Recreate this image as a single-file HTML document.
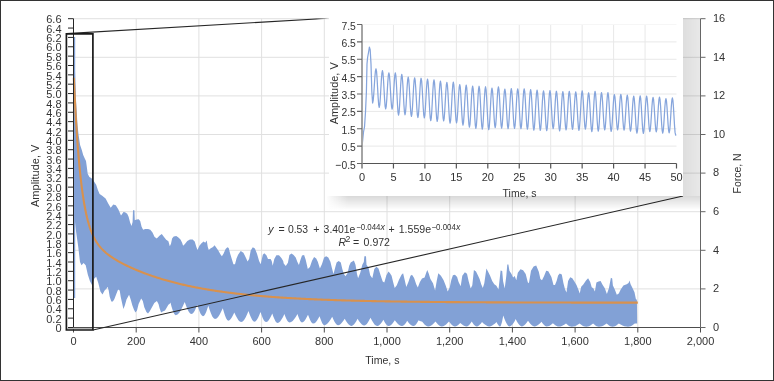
<!DOCTYPE html>
<html><head><meta charset="utf-8"><title>Amplitude vs Time</title>
<style>
html,body{margin:0;padding:0;background:#fff;}
body{width:774px;height:381px;overflow:hidden;font-family:"Liberation Sans",sans-serif;}
svg{display:block;will-change:transform;}
</style></head><body>
<svg width="774" height="381" viewBox="0 0 774 381"><path d="M73.5,288.90H700.5M73.5,250.30H700.5M73.5,211.70H700.5M73.5,173.10H700.5M73.5,134.50H700.5M73.5,95.90H700.5M73.5,57.30H700.5M73.5,18.70H700.5M136.20,18.7V327.5M198.90,18.7V327.5M261.60,18.7V327.5M324.30,18.7V327.5M387.00,18.7V327.5M449.70,18.7V327.5M512.40,18.7V327.5M575.10,18.7V327.5M637.80,18.7V327.5" stroke="#e0e0e0" stroke-width="1" fill="none"/>
<path d="M75.0,70.0 75.5,85.0 76.0,100.0 76.6,110.0 77.5,125.0 78.6,135.0 80.1,145.0 81.8,150.0 83.2,155.0 85.0,159.0 86.0,161.0 86.8,166.8 87.7,173.7 89.4,177.1 91.1,177.9 92.8,179.6 94.5,182.2 96.2,184.7 97.9,189.9 99.6,194.1 102.2,195.8 105.6,198.4 108.2,203.5 110.7,207.8 113.3,204.4 115.8,205.2 118.4,209.5 121.0,215.5 123.5,212.0 125.0,212.3 127.2,213.8 128.6,216.7 130.1,222.5 131.5,226.1 132.6,222.0 133.0,210.2 134.4,210.2 134.8,220.3 136.6,219.6 138.7,219.3 140.2,221.0 141.6,226.8 143.1,229.7 145.2,229.0 148.1,229.0 150.3,229.7 152.5,232.6 154.6,236.9 156.8,238.4 159.7,235.5 161.8,234.0 164.0,236.9 166.2,239.8 168.4,241.2 169.8,246.3 171.0,243.7 172.1,238.5 173.7,236.4 176.3,235.9 178.4,237.4 180.5,239.5 182.1,242.7 183.1,245.8 184.7,244.3 187.3,241.1 189.9,239.5 192.6,239.5 194.7,241.6 196.2,246.4 197.5,250.0 199.4,245.8 201.5,243.2 203.6,241.6 205.2,242.7 206.7,240.6 207.8,246.9 208.8,250.0 210.4,248.5 213.0,246.9 214.6,245.3 216.2,247.4 218.3,250.6 220.4,254.2 221.9,256.3 223.5,253.7 225.6,249.0 227.4,247.2 228.7,248.0 230.2,253.7 231.8,259.0 233.4,264.2 235.0,264.2 236.5,258.5 238.1,254.8 240.7,251.1 243.4,252.7 246.0,257.9 247.6,261.6 249.1,259.0 250.7,250.6 252.8,247.2 254.9,248.5 257.0,253.7 259.1,261.1 260.7,264.2 262.8,254.8 264.3,253.2 266.4,255.3 268.0,259.0 270.6,259.0 271.7,261.1 272.7,265.8 274.3,259.0 276.4,255.3 279.0,255.3 281.4,257.9 283.2,261.0 283.7,263.4 285.8,266.0 287.9,262.8 289.4,255.0 291.5,253.4 293.6,255.0 295.7,257.6 297.3,261.8 298.9,265.0 300.5,259.7 302.0,255.5 304.1,255.0 305.7,259.7 307.8,269.1 309.9,267.0 312.0,260.7 314.1,257.1 316.2,258.6 317.8,261.8 319.9,268.6 322.0,263.9 324.1,257.6 326.2,256.3 328.3,257.6 330.4,261.8 331.9,268.1 333.5,273.9 335.6,266.0 336.6,262.6 338.7,261.0 340.8,262.6 342.3,268.9 343.9,274.1 345.5,276.2 347.6,273.1 349.2,265.7 350.7,262.6 352.3,261.5 353.9,260.5 355.5,264.7 357.0,274.1 358.1,278.3 360.2,273.1 362.3,264.7 363.8,262.0 364.4,256.3 366.0,256.3 366.5,264.7 368.6,267.8 370.2,275.2 372.3,278.3 374.3,268.9 376.4,266.8 378.5,268.4 380.6,275.2 382.7,281.5 384.3,282.5 386.4,275.2 388.5,271.5 390.0,273.2 391.6,275.8 393.1,282.1 394.7,287.9 396.8,285.3 398.9,280.0 401.5,274.8 403.1,273.2 404.7,280.0 406.3,286.9 408.4,282.1 410.5,275.8 412.0,274.8 414.1,277.9 416.2,284.2 417.8,287.4 419.9,282.1 422.0,278.5 424.6,277.4 426.2,272.7 427.3,270.1 428.8,273.7 430.4,279.0 433.0,283.2 435.1,290.5 436.7,281.1 438.3,273.2 440.9,275.8 443.5,280.0 445.6,285.3 447.7,291.6 449.7,287.4 451.3,280.0 452.9,275.3 455.0,274.8 457.1,276.9 458.6,282.1 460.7,286.3 462.3,275.8 464.9,272.2 467.0,273.7 468.6,281.1 470.7,288.4 472.3,285.3 473.9,270.1 476.0,271.6 478.1,275.8 479.6,279.0 481.2,284.2 482.8,287.9 484.3,283.2 486.4,268.5 488.0,271.6 490.1,275.8 492.2,281.1 494.3,284.2 496.4,285.8 498.5,289.5 500.6,270.6 502.2,271.1 503.1,281.2 504.7,288.6 506.3,276.0 507.3,264.4 508.4,264.4 509.4,270.7 511.5,273.9 513.1,277.6 514.7,276.0 516.3,280.2 517.8,272.8 520.5,269.2 523.1,270.2 525.7,273.9 527.8,282.3 528.9,283.3 531.0,270.7 533.6,266.5 536.2,265.5 538.8,271.8 540.4,279.1 542.0,280.2 544.1,276.0 546.2,270.7 548.3,271.3 551.4,277.0 553.5,284.9 555.0,285.1 556.6,280.9 558.1,275.6 559.7,273.5 561.8,274.6 563.4,283.0 565.0,289.3 566.5,292.4 568.1,280.9 570.2,277.2 572.3,278.3 574.4,281.4 576.5,285.1 578.6,290.3 579.7,293.5 581.2,286.7 583.3,284.6 586.0,280.4 588.1,278.3 590.2,281.9 591.7,287.2 593.3,288.2 594.9,291.4 596.4,282.5 598.5,281.4 600.6,280.9 602.7,285.1 604.8,288.2 606.9,294.0 608.9,288.2 610.9,277.7 612.2,278.4 612.9,285.6 614.8,289.6 616.8,294.8 618.8,293.5 620.7,289.6 623.4,285.6 626.7,284.3 628.6,283.0 629.5,280.4 630.6,284.3 632.6,288.2 634.5,292.2 635.8,298.7 636.9,300.0 637.2,323.5 637.2,323.5 636.7,323.5 636.2,323.5 635.8,323.5 635.3,323.4 634.8,323.4 633.4,324.5 632.1,325.4 630.7,326.2 629.4,326.6 628.0,326.8 626.2,326.6 624.3,326.2 622.5,325.4 620.6,324.5 618.8,323.5 617.5,324.5 616.3,325.4 615.0,326.2 613.8,326.6 612.5,326.8 611.3,326.6 610.2,326.2 609.0,325.4 607.9,324.5 606.7,323.5 605.1,324.5 603.6,325.4 602.0,326.2 600.5,326.6 598.9,326.8 597.7,326.6 596.6,326.2 595.4,325.4 594.3,324.5 593.1,323.5 591.7,324.5 590.4,325.4 589.0,326.2 587.7,326.6 586.3,326.8 584.9,326.6 583.6,326.2 582.2,325.4 580.9,324.5 579.5,323.5 578.0,324.5 576.4,325.4 574.9,326.2 573.3,326.6 571.8,326.8 570.6,326.6 569.5,326.2 568.3,325.4 567.2,324.5 566.0,323.5 564.6,324.5 563.2,325.3 561.8,326.0 560.4,326.4 559.0,326.6 557.8,326.4 556.6,326.0 555.3,325.2 554.1,324.3 552.9,323.3 551.7,324.3 550.4,325.2 549.2,325.9 547.9,326.3 546.7,326.5 545.7,326.3 544.6,325.6 543.6,324.5 542.5,323.2 541.5,321.7 540.1,323.2 538.6,324.5 537.2,325.5 535.7,326.2 534.3,326.4 533.0,326.1 531.8,325.3 530.5,324.1 529.3,322.5 528.0,320.7 526.8,322.5 525.6,324.1 524.3,325.3 523.1,326.1 521.9,326.4 520.7,326.0 519.4,325.0 518.2,323.4 516.9,321.4 515.7,319.1 514.5,321.4 513.2,323.4 512.0,325.0 510.7,326.0 509.5,326.4 508.3,325.9 507.0,324.3 505.8,321.9 504.5,318.9 503.3,315.5 502.6,318.9 502.0,321.9 501.3,324.3 500.7,325.9 500.0,326.4 499.3,326.2 498.6,325.6 497.9,324.6 497.2,323.4 496.5,322.0 495.1,323.4 493.6,324.6 492.2,325.6 490.7,326.2 489.3,326.4 487.8,326.2 486.4,325.6 484.9,324.6 483.5,323.4 482.0,322.0 481.0,323.4 479.9,324.6 478.9,325.6 477.8,326.2 476.8,326.4 475.8,326.2 474.8,325.5 473.7,324.4 472.7,323.0 471.7,321.5 470.7,323.0 469.6,324.4 468.6,325.5 467.5,326.2 466.5,326.4 465.3,326.2 464.0,325.8 462.8,325.0 461.5,324.1 460.3,323.0 459.2,324.1 458.2,325.0 457.1,325.8 456.1,326.2 455.0,326.4 453.8,326.2 452.6,325.5 451.4,324.4 450.2,323.0 449.0,321.5 447.5,323.0 446.1,324.4 444.6,325.5 443.2,326.2 441.7,326.4 440.5,326.2 439.2,325.5 438.0,324.4 436.7,323.0 435.5,321.5 434.1,323.0 432.6,324.4 431.2,325.5 429.7,326.2 428.3,326.4 427.0,326.2 425.8,325.5 424.5,324.4 423.3,323.0 422.0,321.5 421.3,321.4 420.6,321.3 420.0,321.0 419.3,320.7 418.6,320.3 417.6,322.1 416.5,323.7 415.5,324.9 414.4,325.7 413.4,326.0 412.2,325.7 410.9,325.0 409.7,323.9 408.4,322.4 407.2,320.8 406.2,322.4 405.1,323.9 404.1,325.0 403.0,325.7 402.0,326.0 400.6,325.7 399.1,324.9 397.7,323.7 396.2,322.1 394.8,320.3 393.6,322.1 392.3,323.7 391.1,324.9 389.8,325.7 388.6,326.0 387.6,325.7 386.5,324.8 385.5,323.4 384.4,321.7 383.4,319.8 382.2,321.7 380.9,323.4 379.7,324.8 378.4,325.7 377.2,326.0 375.9,325.6 374.5,324.4 373.2,322.6 371.8,320.3 370.5,317.7 369.3,320.1 368.0,322.3 366.8,324.0 365.5,325.1 364.3,325.5 363.0,325.2 361.6,324.2 360.3,322.7 358.9,320.9 357.6,318.8 356.4,321.0 355.1,323.0 353.9,324.6 352.6,325.6 351.4,326.0 350.1,325.6 348.7,324.6 347.4,323.0 346.0,321.0 344.7,318.8 343.4,320.8 342.0,322.6 340.7,324.0 339.3,324.9 338.0,325.2 336.8,324.8 335.7,323.6 334.5,321.7 333.4,319.4 332.2,316.8 330.6,319.4 329.0,321.7 327.5,323.6 325.9,324.8 324.3,325.2 323.4,324.8 322.4,323.5 321.5,321.5 320.5,319.0 319.6,316.2 318.3,318.5 317.1,320.5 315.8,322.2 314.6,323.2 313.3,323.6 312.2,323.2 311.2,321.9 310.1,319.9 309.1,317.5 308.0,314.7 306.8,317.1 305.6,319.3 304.4,321.0 303.2,322.1 302.0,322.5 301.1,322.1 300.2,320.9 299.3,319.0 298.4,316.7 297.5,314.1 295.9,316.7 294.3,319.0 292.7,320.9 291.1,322.1 289.5,322.5 288.5,322.1 287.5,320.9 286.4,319.0 285.4,316.7 284.4,314.1 283.0,316.9 281.6,319.3 280.3,321.3 278.9,322.6 277.5,323.0 276.5,322.5 275.4,321.2 274.4,319.1 273.3,316.4 272.3,313.5 271.0,316.2 269.8,318.6 268.5,320.5 267.3,321.7 266.0,322.1 264.9,321.6 263.8,320.2 262.7,317.9 261.6,315.1 260.5,312.0 259.3,315.0 258.1,317.7 256.9,319.8 255.7,321.2 254.5,321.7 253.3,321.2 252.1,319.7 250.9,317.3 249.7,314.4 248.5,311.1 247.0,314.5 245.6,317.6 244.1,320.0 242.7,321.6 241.2,322.1 239.8,321.6 238.4,320.3 237.1,318.1 235.7,315.5 234.3,312.5 233.1,315.0 231.9,317.3 230.7,319.1 229.5,320.3 228.3,320.7 227.2,320.1 226.1,318.3 225.0,315.6 223.9,312.1 222.8,308.3 221.2,311.6 219.7,314.5 218.1,316.9 216.6,318.4 215.0,318.9 213.7,318.3 212.3,316.4 211.0,313.5 209.6,309.8 208.3,305.7 207.2,308.9 206.2,311.9 205.1,314.2 204.1,315.7 203.0,316.2 201.9,315.6 200.7,314.0 199.6,311.5 198.4,308.3 197.3,304.7 196.1,307.6 195.0,310.2 193.8,312.3 192.7,313.6 191.5,314.1 190.1,313.5 188.8,311.8 187.4,309.2 186.1,305.8 184.7,302.1 182.9,306.1 181.1,309.8 179.3,312.7 177.5,314.6 175.7,315.2 174.7,314.6 173.6,312.8 172.6,310.0 171.5,306.5 170.5,302.6 170.1,303.2 169.7,303.7 169.3,304.1 168.9,304.4 168.5,304.5 166.5,308.0 165.0,310.4 162.7,311.5 161.1,312.5 159.6,308.3 158.5,304.1 156.9,301.0 154.3,303.1 151.7,307.8 149.6,311.5 148.0,313.6 146.4,312.0 144.3,307.3 142.8,301.0 141.2,298.4 138.6,304.1 137.0,310.4 135.4,312.5 133.9,309.4 132.3,305.2 130.7,299.4 129.1,294.7 126.5,299.4 124.9,305.2 123.4,308.9 122.3,304.1 120.7,296.8 119.7,290.5 118.1,289.4 116.5,293.6 114.4,298.9 112.9,301.5 111.3,301.5 109.7,296.8 108.7,290.5 107.6,286.8 106.6,288.4 104.6,290.5 102.5,294.6 100.4,291.4 98.3,283.0 96.2,276.7 94.1,278.8 92.0,285.1 89.9,280.9 87.8,274.6 85.7,265.2 83.6,263.0 81.5,265.2 80.0,262.0 78.3,247.3 76.2,232.6 74.8,220.0Z" fill="#82a1d6"/>
<rect x="74" y="37" width="1.2" height="261" fill="#82a1d6"/>
<path d="M73.81,77.78 73.97,81.23 74.13,84.62 74.28,87.94 74.44,91.18 74.60,94.36 74.75,97.47 74.91,100.52 75.07,103.50 75.22,106.42 75.38,109.29 75.54,112.09 75.69,114.83 75.85,117.52 76.01,120.15 76.16,122.72 76.32,125.25 76.48,127.72 76.64,130.14 76.79,132.51 76.95,134.83 77.11,137.10 77.26,139.33 77.42,141.51 77.58,143.65 77.73,145.74 77.89,147.79 78.05,149.80 78.20,151.76 78.36,153.69 78.52,155.58 78.67,157.43 78.83,159.24 78.99,161.01 79.14,162.75 79.30,164.46 79.46,166.13 79.61,167.76 79.77,169.37 79.93,170.94 80.08,172.48 80.24,173.98 80.40,175.46 80.55,176.91 80.71,178.33 80.87,179.72 81.02,181.09 81.18,182.42 81.34,183.73 81.49,185.02 81.65,186.28 81.81,187.51 81.96,188.72 82.12,189.91 82.28,191.07 82.43,192.21 82.59,193.33 82.75,194.43 82.91,195.50 83.06,196.55 83.22,197.59 84.16,203.39 85.10,208.55 86.04,213.17 86.98,217.30 87.92,220.99 88.86,224.32 89.80,227.31 90.74,230.02 91.68,232.46 92.62,234.69 93.56,236.71 94.50,238.56 95.44,240.26 96.39,241.82 97.33,243.26 98.27,244.60 99.21,245.84 100.15,247.00 101.09,248.09 102.03,249.11 102.97,250.08 103.91,250.99 104.85,251.85 105.79,252.68 106.73,253.47 107.67,254.22 108.61,254.95 109.55,255.65 110.49,256.32 111.43,256.97 112.37,257.60 113.31,258.22 114.25,258.81 115.20,259.40 116.14,259.96 117.08,260.52 118.02,261.06 118.96,261.59 119.90,262.11 120.84,262.62 121.78,263.12 122.72,263.62 123.66,264.10 124.60,264.58 125.54,265.05 126.48,265.51 127.42,265.96 128.36,266.41 129.30,266.85 130.24,267.28 131.18,267.71 132.12,268.14 133.06,268.55 134.01,268.96 134.95,269.37 135.89,269.77 136.83,270.17 137.77,270.56 138.71,270.94 139.65,271.32 140.59,271.70 141.53,272.07 142.47,272.44 143.41,272.80 144.35,273.16 145.29,273.51 146.23,273.86 147.17,274.20 148.11,274.54 149.05,274.88 149.99,275.21 150.93,275.54 151.88,275.87 152.82,276.19 153.76,276.50 154.70,276.82 155.64,277.12 156.58,277.43 157.52,277.73 158.46,278.03 159.40,278.32 160.34,278.61 161.28,278.90 162.22,279.19 163.16,279.47 164.10,279.74 165.04,280.02 165.98,280.29 166.92,280.56 167.86,280.82 168.80,281.08 169.74,281.34 170.69,281.59 171.63,281.85 172.57,282.09 173.51,282.34 174.45,282.58 175.39,282.82 176.33,283.06 177.27,283.29 178.21,283.53 179.15,283.75 180.09,283.98 181.03,284.20 181.97,284.42 182.91,284.64 183.85,284.86 184.79,285.07 185.73,285.28 186.67,285.49 187.61,285.69 188.55,285.90 189.50,286.10 190.44,286.30 191.38,286.49 192.32,286.69 193.26,286.88 194.20,287.06 195.14,287.25 196.08,287.44 197.02,287.62 197.96,287.80 198.90,287.98 199.84,288.15 200.78,288.32 201.72,288.50 202.66,288.67 203.60,288.83 204.54,289.00 205.48,289.16 206.42,289.32 207.36,289.48 208.31,289.64 209.25,289.80 210.19,289.95 211.13,290.10 212.07,290.25 213.01,290.40 213.95,290.55 214.89,290.69 215.83,290.84 216.77,290.98 217.71,291.12 218.65,291.26 219.59,291.39 220.53,291.53 221.47,291.66 222.41,291.79 223.35,291.92 224.29,292.05 225.23,292.18 226.17,292.30 227.12,292.43 228.06,292.55 229.00,292.67 229.94,292.79 230.88,292.91 231.82,293.03 232.76,293.14 233.70,293.26 234.64,293.37 235.58,293.48 236.52,293.59 237.46,293.70 238.40,293.81 239.34,293.91 240.28,294.02 241.22,294.12 242.16,294.22 243.10,294.32 244.04,294.42 244.98,294.52 245.93,294.62 246.87,294.72 247.81,294.81 248.75,294.91 249.69,295.00 250.63,295.09 251.57,295.18 252.51,295.27 253.45,295.36 254.39,295.45 255.33,295.53 256.27,295.62 257.21,295.70 258.15,295.79 259.09,295.87 260.03,295.95 260.97,296.03 261.91,296.11 262.85,296.19 263.79,296.27 264.74,296.34 265.68,296.42 266.62,296.50 267.56,296.57 268.50,296.64 269.44,296.71 270.38,296.79 271.32,296.86 272.26,296.93 273.20,297.00 274.14,297.06 275.08,297.13 276.02,297.20 276.96,297.26 277.90,297.33 278.84,297.39 279.78,297.46 280.72,297.52 281.66,297.58 282.60,297.64 283.54,297.70 284.49,297.76 285.43,297.82 286.37,297.88 287.31,297.94 288.25,297.99 289.19,298.05 290.13,298.10 291.07,298.16 292.01,298.21 292.95,298.27 293.89,298.32 294.83,298.37 295.77,298.42 296.71,298.47 297.65,298.53 298.59,298.57 299.53,298.62 300.47,298.67 301.41,298.72 302.36,298.77 303.30,298.82 304.24,298.86 305.18,298.91 306.12,298.95 307.06,299.00 308.00,299.04 308.94,299.09 309.88,299.13 310.82,299.17 311.76,299.21 312.70,299.25 313.64,299.30 314.58,299.34 315.52,299.38 316.46,299.42 317.40,299.46 318.34,299.49 319.28,299.53 320.22,299.57 321.16,299.61 322.11,299.64 323.05,299.68 323.99,299.72 324.93,299.75 325.87,299.79 326.81,299.82 327.75,299.86 328.69,299.89 329.63,299.92 330.57,299.96 331.51,299.99 332.45,300.02 333.39,300.05 334.33,300.09 335.27,300.12 336.21,300.15 337.15,300.18 338.09,300.21 339.03,300.24 339.98,300.27 340.92,300.30 341.86,300.33 342.80,300.35 343.74,300.38 344.68,300.41 345.62,300.44 346.56,300.46 347.50,300.49 348.44,300.52 349.38,300.54 350.32,300.57 351.26,300.59 352.20,300.62 353.14,300.64 354.08,300.67 355.02,300.69 355.96,300.72 356.90,300.74 357.84,300.76 358.79,300.79 359.73,300.81 360.67,300.83 361.61,300.86 362.55,300.88 363.49,300.90 364.43,300.92 365.37,300.94 366.31,300.96 367.25,300.98 368.19,301.00 369.13,301.02 370.07,301.04 371.01,301.06 371.95,301.08 372.89,301.10 373.83,301.12 374.77,301.14 375.71,301.16 376.65,301.18 377.60,301.20 378.54,301.21 379.48,301.23 380.42,301.25 381.36,301.27 382.30,301.28 383.24,301.30 384.18,301.32 385.12,301.33 386.06,301.35 387.00,301.37 387.94,301.38 388.88,301.40 389.82,301.41 390.76,301.43 391.70,301.44 392.64,301.46 393.58,301.47 394.52,301.49 395.46,301.50 396.40,301.52 397.35,301.53 398.29,301.55 399.23,301.56 400.17,301.57 401.11,301.59 402.05,301.60 402.99,301.61 403.93,301.63 404.87,301.64 405.81,301.65 406.75,301.66 407.69,301.68 408.63,301.69 409.57,301.70 410.51,301.71 411.45,301.72 412.39,301.74 413.33,301.75 414.27,301.76 415.21,301.77 416.16,301.78 417.10,301.79 418.04,301.80 418.98,301.81 419.92,301.82 420.86,301.84 421.80,301.85 422.74,301.86 423.68,301.87 424.62,301.88 425.56,301.89 426.50,301.90 427.44,301.90 428.38,301.91 429.32,301.92 430.26,301.93 431.20,301.94 432.14,301.95 433.08,301.96 434.02,301.97 434.97,301.98 435.91,301.99 436.85,302.00 437.79,302.00 438.73,302.01 439.67,302.02 440.61,302.03 441.55,302.04 442.49,302.04 443.43,302.05 444.37,302.06 445.31,302.07 446.25,302.08 447.19,302.08 448.13,302.09 449.07,302.10 450.01,302.10 450.95,302.11 451.89,302.12 452.83,302.13 453.78,302.13 454.72,302.14 455.66,302.15 456.60,302.15 457.54,302.16 458.48,302.17 459.42,302.17 460.36,302.18 461.30,302.18 462.24,302.19 463.18,302.20 464.12,302.20 465.06,302.21 466.00,302.21 466.94,302.22 467.88,302.23 468.82,302.23 469.76,302.24 470.70,302.24 471.64,302.25 472.59,302.25 473.53,302.26 474.47,302.26 475.41,302.27 476.35,302.28 477.29,302.28 478.23,302.29 479.17,302.29 480.11,302.30 481.05,302.30 481.99,302.30 482.93,302.31 483.87,302.31 484.81,302.32 485.75,302.32 486.69,302.33 487.63,302.33 488.57,302.34 489.51,302.34 490.45,302.35 491.40,302.35 492.34,302.35 493.28,302.36 494.22,302.36 495.16,302.37 496.10,302.37 497.04,302.37 497.98,302.38 498.92,302.38 499.86,302.39 500.80,302.39 501.74,302.39 502.68,302.40 503.62,302.40 504.56,302.40 505.50,302.41 506.44,302.41 507.38,302.41 508.32,302.42 509.26,302.42 510.21,302.43 511.15,302.43 512.09,302.43 513.03,302.43 513.97,302.44 514.91,302.44 515.85,302.44 516.79,302.45 517.73,302.45 518.67,302.45 519.61,302.46 520.55,302.46 521.49,302.46 522.43,302.47 523.37,302.47 524.31,302.47 525.25,302.47 526.19,302.48 527.13,302.48 528.08,302.48 529.02,302.48 529.96,302.49 530.90,302.49 531.84,302.49 532.78,302.49 533.72,302.50 534.66,302.50 535.60,302.50 536.54,302.50 537.48,302.51 538.42,302.51 539.36,302.51 540.30,302.51 541.24,302.52 542.18,302.52 543.12,302.52 544.06,302.52 545.00,302.52 545.94,302.53 546.88,302.53 547.83,302.53 548.77,302.53 549.71,302.53 550.65,302.54 551.59,302.54 552.53,302.54 553.47,302.54 554.41,302.54 555.35,302.55 556.29,302.55 557.23,302.55 558.17,302.55 559.11,302.55 560.05,302.56 560.99,302.56 561.93,302.56 562.87,302.56 563.81,302.56 564.75,302.56 565.69,302.57 566.64,302.57 567.58,302.57 568.52,302.57 569.46,302.57 570.40,302.57 571.34,302.58 572.28,302.58 573.22,302.58 574.16,302.58 575.10,302.58 576.04,302.58 576.98,302.58 577.92,302.59 578.86,302.59 579.80,302.59 580.74,302.59 581.68,302.59 582.62,302.59 583.56,302.59 584.50,302.59 585.45,302.60 586.39,302.60 587.33,302.60 588.27,302.60 589.21,302.60 590.15,302.60 591.09,302.60 592.03,302.60 592.97,302.61 593.91,302.61 594.85,302.61 595.79,302.61 596.73,302.61 597.67,302.61 598.61,302.61 599.55,302.61 600.49,302.61 601.43,302.62 602.37,302.62 603.32,302.62 604.26,302.62 605.20,302.62 606.14,302.62 607.08,302.62 608.02,302.62 608.96,302.62 609.90,302.62 610.84,302.63 611.78,302.63 612.72,302.63 613.66,302.63 614.60,302.63 615.54,302.63 616.48,302.63 617.42,302.63 618.36,302.63 619.30,302.63 620.24,302.63 621.18,302.64 622.12,302.64 623.07,302.64 624.01,302.64 624.95,302.64 625.89,302.64 626.83,302.64 627.77,302.64 628.71,302.64 629.65,302.64 630.59,302.64 631.53,302.64 632.47,302.64 633.41,302.64 634.35,302.65 635.29,302.65 636.23,302.65 637.17,302.65 637.80,302.65" stroke="#d8914e" stroke-width="2.1" fill="none"/>
<path d="M73.5,18.7V327.5M68,327.50H73.5M68,318.14H73.5M68,308.78H73.5M68,299.43H73.5M68,290.07H73.5M68,280.71H73.5M68,271.35H73.5M68,262.00H73.5M68,252.64H73.5M68,243.28H73.5M68,233.92H73.5M68,224.57H73.5M68,215.21H73.5M68,205.85H73.5M68,196.49H73.5M68,187.14H73.5M68,177.78H73.5M68,168.42H73.5M68,159.06H73.5M68,149.71H73.5M68,140.35H73.5M68,130.99H73.5M68,121.63H73.5M68,112.28H73.5M68,102.92H73.5M68,93.56H73.5M68,84.20H73.5M68,74.85H73.5M68,65.49H73.5M68,56.13H73.5M68,46.77H73.5M68,37.42H73.5M68,28.06H73.5M68,18.70H73.5" stroke="#262626" stroke-width="1" fill="none"/>
<path d="M73.5,327.5H700.5M73.50,327.5V332.5M136.20,327.5V332.5M198.90,327.5V332.5M261.60,327.5V332.5M324.30,327.5V332.5M387.00,327.5V332.5M449.70,327.5V332.5M512.40,327.5V332.5M575.10,327.5V332.5M637.80,327.5V332.5M700.50,327.5V332.5" stroke="#4d4d4d" stroke-width="1" fill="none"/>
<path d="M700.5,18.7V327.5M700.5,327.50H705.5M700.5,288.90H705.5M700.5,250.30H705.5M700.5,211.70H705.5M700.5,173.10H705.5M700.5,134.50H705.5M700.5,95.90H705.5M700.5,57.30H705.5M700.5,18.70H705.5" stroke="#666" stroke-width="1" fill="none"/>
<g font-family="Liberation Sans" font-size="11" fill="#333"><text x="61.5" y="332.20" text-anchor="end">0</text><text x="61.5" y="322.84" text-anchor="end">0.2</text><text x="61.5" y="313.48" text-anchor="end">0.4</text><text x="61.5" y="304.13" text-anchor="end">0.6</text><text x="61.5" y="294.77" text-anchor="end">0.8</text><text x="61.5" y="285.41" text-anchor="end">1.0</text><text x="61.5" y="276.05" text-anchor="end">1.2</text><text x="61.5" y="266.70" text-anchor="end">1.4</text><text x="61.5" y="257.34" text-anchor="end">1.6</text><text x="61.5" y="247.98" text-anchor="end">1.8</text><text x="61.5" y="238.62" text-anchor="end">2.0</text><text x="61.5" y="229.27" text-anchor="end">2.2</text><text x="61.5" y="219.91" text-anchor="end">2.4</text><text x="61.5" y="210.55" text-anchor="end">2.6</text><text x="61.5" y="201.19" text-anchor="end">2.8</text><text x="61.5" y="191.84" text-anchor="end">3.0</text><text x="61.5" y="182.48" text-anchor="end">3.2</text><text x="61.5" y="173.12" text-anchor="end">3.4</text><text x="61.5" y="163.76" text-anchor="end">3.6</text><text x="61.5" y="154.41" text-anchor="end">3.8</text><text x="61.5" y="145.05" text-anchor="end">4.0</text><text x="61.5" y="135.69" text-anchor="end">4.2</text><text x="61.5" y="126.33" text-anchor="end">4.4</text><text x="61.5" y="116.98" text-anchor="end">4.6</text><text x="61.5" y="107.62" text-anchor="end">4.8</text><text x="61.5" y="98.26" text-anchor="end">5.0</text><text x="61.5" y="88.90" text-anchor="end">5.2</text><text x="61.5" y="79.55" text-anchor="end">5.4</text><text x="61.5" y="70.19" text-anchor="end">5.6</text><text x="61.5" y="60.83" text-anchor="end">5.8</text><text x="61.5" y="51.47" text-anchor="end">6.0</text><text x="61.5" y="42.12" text-anchor="end">6.2</text><text x="61.5" y="32.76" text-anchor="end">6.4</text><text x="61.5" y="23.40" text-anchor="end">6.6</text><text x="73.50" y="345.3" text-anchor="middle">0</text><text x="136.20" y="345.3" text-anchor="middle">200</text><text x="198.90" y="345.3" text-anchor="middle">400</text><text x="261.60" y="345.3" text-anchor="middle">600</text><text x="324.30" y="345.3" text-anchor="middle">800</text><text x="387.00" y="345.3" text-anchor="middle">1,000</text><text x="449.70" y="345.3" text-anchor="middle">1,200</text><text x="512.40" y="345.3" text-anchor="middle">1,400</text><text x="575.10" y="345.3" text-anchor="middle">1,600</text><text x="637.80" y="345.3" text-anchor="middle">1,800</text><text x="700.50" y="345.3" text-anchor="middle">2,000</text><text x="713" y="330.70">0</text><text x="713" y="292.10">2</text><text x="713" y="253.50">4</text><text x="713" y="214.90">6</text><text x="713" y="176.30">8</text><text x="713" y="137.70">10</text><text x="713" y="99.10">12</text><text x="713" y="60.50">14</text><text x="713" y="21.90">16</text></g>
<text font-family="Liberation Sans" font-size="11" fill="#333" x="382.4" y="363.9" text-anchor="middle" textLength="34.3" lengthAdjust="spacingAndGlyphs">Time, s</text>
<text font-family="Liberation Sans" font-size="11" fill="#333" transform="translate(39.3,175.8) rotate(-90)" text-anchor="middle" textLength="62.4" lengthAdjust="spacingAndGlyphs">Amplitude, V</text>
<text font-family="Liberation Sans" font-size="11" fill="#333" transform="translate(740.6,173.4) rotate(-90)" text-anchor="middle" textLength="40" lengthAdjust="spacingAndGlyphs">Force, N</text>
<g font-family="Liberation Sans" fill="#333"><text x="268.2" y="232.5" font-size="10.6" font-style="italic" text-anchor="start">y</text><text x="278.6" y="232.5" font-size="10.6" text-anchor="start">=</text><text x="287.9" y="232.5" font-size="10.6" textLength="20.2" lengthAdjust="spacingAndGlyphs" text-anchor="start">0.53</text><text x="313.2" y="232.5" font-size="10.6" text-anchor="start">+</text><text x="323.6" y="232.5" font-size="10.6" textLength="31.8" lengthAdjust="spacingAndGlyphs" text-anchor="start">3.401e</text><text x="356.2" y="229.7" font-size="8.8" textLength="24.3" lengthAdjust="spacingAndGlyphs" text-anchor="start">−0.044</text><text x="380.6" y="229.7" font-size="8.8" font-style="italic" text-anchor="start">x</text><text x="388.6" y="232.5" font-size="10.6" text-anchor="start">+</text><text x="398.7" y="232.5" font-size="10.6" textLength="32.4" lengthAdjust="spacingAndGlyphs" text-anchor="start">1.559e</text><text x="431.5" y="229.7" font-size="8.8" textLength="24.4" lengthAdjust="spacingAndGlyphs" text-anchor="start">−0.004</text><text x="456.0" y="229.7" font-size="8.8" font-style="italic" text-anchor="start">x</text><text x="338.6" y="245.8" font-size="10.6" font-style="italic" text-anchor="start">R</text><text x="345.4" y="242.3" font-size="8.8" text-anchor="start">2</text><text x="353.1" y="245.8" font-size="10.6" text-anchor="start">=</text><text x="363.6" y="245.8" font-size="10.6" textLength="26.4" lengthAdjust="spacingAndGlyphs" text-anchor="start">0.972</text></g>
<defs><linearGradient id="cfade" gradientUnits="userSpaceOnUse" x1="316" y1="0" x2="329" y2="0"><stop offset="0" stop-color="#262626"/><stop offset="1" stop-color="#262626" stop-opacity="0"/></linearGradient></defs>
<rect x="67.4" y="328" width="25" height="1.4" fill="#b4b4b4"/>
<path d="M66.4,33.6L329,18.3" stroke="url(#cfade)" stroke-width="1.1" fill="none"/>
<path d="M93,330L683,196" stroke="#262626" stroke-width="1.1" fill="none"/>
<path d="M66.4,33.9H92.9V330H66.4Z" stroke="#1a1a1a" stroke-width="1.7" fill="none"/>
<defs><linearGradient id="shR" x1="0" x2="1" y1="0" y2="0"><stop offset="0" stop-color="#000" stop-opacity="0.13"/><stop offset="1" stop-color="#000" stop-opacity="0.09"/></linearGradient><linearGradient id="shB" x1="0" x2="0" y1="0" y2="1"><stop offset="0" stop-color="#000" stop-opacity="0.15"/><stop offset="1" stop-color="#000" stop-opacity="0"/></linearGradient><linearGradient id="shBx" x1="0" x2="1" y1="0" y2="0"><stop offset="0" stop-color="#fff" stop-opacity="1"/><stop offset="1" stop-color="#fff" stop-opacity="0"/></linearGradient><linearGradient id="fadeL" x1="0" x2="1" y1="0" y2="0"><stop offset="0" stop-color="#fff" stop-opacity="0"/><stop offset="1" stop-color="#fff" stop-opacity="0.9"/></linearGradient></defs>
<rect x="683" y="18" width="17" height="178" fill="url(#shR)"/>
<rect x="327" y="196" width="373" height="14" fill="url(#shB)"/>
<rect x="326" y="196" width="22" height="14" fill="url(#shBx)"/>
<rect x="329" y="14" width="354" height="182" fill="#fff"/>
<path d="M362.0,146.12H676.5M362.0,128.75H676.5M362.0,111.38H676.5M362.0,94.00H676.5M362.0,76.62H676.5M362.0,59.25H676.5M362.0,41.88H676.5M393.45,24.5V163.5M424.90,24.5V163.5M456.35,24.5V163.5M487.80,24.5V163.5M519.25,24.5V163.5M550.70,24.5V163.5M582.15,24.5V163.5M613.60,24.5V163.5M645.05,24.5V163.5" stroke="#e8e8e8" stroke-width="1" fill="none"/>
<path d="M362.0,24.50H676.5" stroke="#f6f6f6" stroke-width="1" fill="none"/>
<path d="M362.40,143.00 363.50,132.00 364.50,127.00 365.50,112.00 366.40,92.00 367.00,64.00 367.60,57.50 368.60,52.00 369.40,47.20 370.20,50.00 371.00,64.00 371.80,91.00 372.60,103.00 373.17,100.71 373.73,94.44 374.30,85.89 374.87,77.33 375.43,71.06 376.00,68.77 376.54,71.36 377.07,78.42 377.61,88.07 378.15,97.73 378.68,104.79 379.22,107.38 379.76,104.92 380.30,98.19 380.83,89.01 381.37,79.82 381.91,73.10 382.44,70.63 382.98,73.20 383.52,80.21 384.05,89.78 384.59,99.36 385.13,106.36 385.66,108.93 386.20,106.51 386.74,99.90 387.28,90.86 387.81,81.83 388.35,75.22 388.89,72.79 389.42,75.23 389.96,81.90 390.50,91.00 391.03,100.11 391.57,106.78 392.11,109.21 392.64,106.78 393.18,100.13 393.72,91.04 394.26,81.96 394.79,75.31 395.33,72.87 395.87,75.70 396.40,83.43 396.94,93.99 397.48,104.56 398.01,112.29 398.55,115.12 399.09,112.40 399.62,104.96 400.16,94.80 400.70,84.64 401.24,77.20 401.77,74.48 402.31,77.18 402.85,84.55 403.38,94.62 403.92,104.68 404.46,112.06 404.99,114.75 405.53,112.24 406.07,105.37 406.60,95.98 407.14,86.59 407.68,79.72 408.21,77.20 408.75,79.83 409.29,87.00 409.83,96.80 410.36,106.60 410.90,113.78 411.44,116.40 411.97,113.81 412.51,106.75 413.05,97.09 413.58,87.43 414.12,80.36 414.66,77.77 415.19,80.43 415.73,87.70 416.27,97.64 416.81,107.57 417.34,114.84 417.88,117.50 418.42,114.87 418.95,107.69 419.49,97.88 420.03,88.07 420.56,80.88 421.10,78.25 421.64,80.90 422.17,88.14 422.71,98.03 423.25,107.91 423.79,115.15 424.32,117.80 424.86,115.21 425.40,108.15 425.93,98.50 426.47,88.85 427.01,81.78 427.54,79.20 428.08,81.97 428.62,89.55 429.15,99.90 429.69,110.25 430.23,117.83 430.77,120.61 431.30,117.88 431.84,110.43 432.38,100.25 432.91,90.07 433.45,82.61 433.99,79.89 434.52,82.66 435.06,90.26 435.60,100.63 436.13,111.01 436.67,118.60 437.21,121.38 437.75,118.69 438.28,111.34 438.82,101.29 439.36,91.24 439.89,83.89 440.43,81.20 440.97,83.85 441.50,91.11 442.04,101.02 442.58,110.93 443.11,118.19 443.65,120.84 444.19,118.26 444.73,111.22 445.26,101.60 445.80,91.98 446.34,84.94 446.87,82.36 447.41,85.09 447.95,92.57 448.48,102.77 449.02,112.98 449.56,120.45 450.09,123.19 450.63,120.44 451.17,112.95 451.71,102.70 452.24,92.46 452.78,84.96 453.32,82.22 453.85,84.94 454.39,92.39 454.93,102.57 455.46,112.75 456.00,120.20 456.54,122.93 457.07,120.36 457.61,113.33 458.15,103.73 458.69,94.13 459.22,87.10 459.76,84.53 460.30,87.24 460.83,94.66 461.37,104.80 461.91,114.93 462.44,122.35 462.98,125.07 463.52,122.39 464.05,115.08 464.59,105.10 465.13,95.11 465.67,87.80 466.20,85.13 466.74,87.94 467.28,95.63 467.81,106.13 468.35,116.63 468.89,124.31 469.42,127.13 469.96,124.38 470.50,116.86 471.03,106.60 471.57,96.34 472.11,88.82 472.64,86.07 473.18,88.90 473.72,96.63 474.26,107.19 474.79,117.75 475.33,125.48 475.87,128.31 476.40,125.49 476.94,117.80 477.48,107.28 478.01,96.77 478.55,89.07 479.09,86.25 479.62,89.12 480.16,96.97 480.70,107.68 481.24,118.39 481.77,126.24 482.31,129.11 482.85,126.27 483.38,118.52 483.92,107.93 484.46,97.34 484.99,89.59 485.53,86.75 486.07,89.62 486.60,97.47 487.14,108.18 487.68,118.89 488.22,126.74 488.75,129.61 489.29,126.83 489.83,119.25 490.36,108.89 490.90,98.53 491.44,90.95 491.97,88.17 492.51,90.82 493.05,98.05 493.58,107.92 494.12,117.79 494.66,125.02 495.20,127.66 495.73,124.92 496.27,117.44 496.81,107.22 497.34,96.99 497.88,89.51 498.42,86.77 498.95,89.53 499.49,97.08 500.03,107.39 500.56,117.71 501.10,125.26 501.64,128.02 502.18,125.41 502.71,118.30 503.25,108.58 503.79,98.86 504.32,91.74 504.86,89.14 505.40,91.78 505.93,99.01 506.47,108.88 507.01,118.74 507.54,125.97 508.08,128.61 508.62,125.94 509.16,118.64 509.69,108.66 510.23,98.68 510.77,91.38 511.30,88.70 511.84,91.36 512.38,98.62 512.91,108.53 513.45,118.44 513.99,125.70 514.52,128.36 515.06,125.71 515.60,118.47 516.14,108.58 516.67,98.69 517.21,91.45 517.75,88.80 518.28,91.46 518.82,98.75 519.36,108.71 519.89,118.67 520.43,125.96 520.97,128.63 521.50,125.96 522.04,118.67 522.58,108.72 523.12,98.76 523.65,91.47 524.19,88.80 524.73,91.51 525.26,98.89 525.80,108.99 526.34,119.08 526.87,126.47 527.41,129.18 527.95,126.53 528.48,119.31 529.02,109.45 529.56,99.59 530.10,92.37 530.63,89.72 531.17,92.43 531.71,99.81 532.24,109.89 532.78,119.97 533.32,127.35 533.85,130.06 534.39,127.38 534.93,120.08 535.46,110.11 536.00,100.14 536.54,92.84 537.08,90.17 537.61,92.86 538.15,100.19 538.69,110.22 539.22,120.24 539.76,127.57 540.30,130.26 540.83,127.62 541.37,120.40 541.91,110.53 542.44,100.67 542.98,93.45 543.52,90.81 544.05,93.47 544.59,100.74 545.13,110.68 545.67,120.61 546.20,127.89 546.74,130.55 547.28,127.87 547.81,120.56 548.35,110.56 548.89,100.57 549.42,93.25 549.96,90.58 550.50,93.13 551.03,100.11 551.57,109.64 552.11,119.17 552.65,126.15 553.18,128.71 553.72,126.20 554.26,119.34 554.79,109.98 555.33,100.61 555.87,93.76 556.40,91.25 556.94,93.89 557.48,101.13 558.01,111.01 558.55,120.89 559.09,128.13 559.63,130.77 560.16,128.15 560.70,120.97 561.24,111.17 561.77,101.37 562.31,94.19 562.85,91.57 563.38,94.14 563.92,101.17 564.46,110.77 564.99,120.37 565.53,127.39 566.07,129.97 566.61,127.38 567.14,120.31 567.68,110.65 568.22,100.98 568.75,93.91 569.29,91.32 569.83,93.86 570.36,100.80 570.90,110.29 571.44,119.77 571.97,126.71 572.51,129.25 573.05,126.75 573.59,119.90 574.12,110.55 574.66,101.20 575.20,94.35 575.73,91.84 576.27,94.42 576.81,101.45 577.34,111.05 577.88,120.66 578.42,127.69 578.95,130.26 579.49,127.63 580.03,120.44 580.57,110.61 581.10,100.79 581.64,93.60 582.18,90.96 582.71,93.52 583.25,100.52 583.79,110.07 584.32,119.63 584.86,126.62 585.40,129.18 585.93,126.74 586.47,120.08 587.01,110.97 587.55,101.86 588.08,95.20 588.62,92.76 589.16,95.36 589.69,102.46 590.23,112.15 590.77,121.85 591.30,128.95 591.84,131.55 592.38,128.86 592.91,121.50 593.45,111.45 593.99,101.40 594.53,94.04 595.06,91.35 595.60,94.02 596.14,101.32 596.67,111.29 597.21,121.27 597.75,128.57 598.28,131.24 598.82,128.65 599.36,121.57 599.89,111.90 600.43,102.22 600.97,95.14 601.50,92.55 602.04,95.05 602.58,101.87 603.12,111.19 603.65,120.50 604.19,127.33 604.73,129.82 605.26,127.34 605.80,120.54 606.34,111.26 606.87,101.98 607.41,95.19 607.95,92.70 608.48,95.30 609.02,102.39 609.56,112.08 610.10,121.76 610.63,128.85 611.17,131.45 611.71,128.98 612.24,122.22 612.78,112.98 613.32,103.75 613.85,96.99 614.39,94.52 614.93,96.89 615.46,103.35 616.00,112.19 616.54,121.02 617.08,127.49 617.61,129.85 618.15,127.48 618.69,120.98 619.22,112.10 619.76,103.23 620.30,96.73 620.83,94.36 621.37,96.75 621.91,103.30 622.44,112.24 622.98,121.18 623.52,127.73 624.06,130.13 624.59,127.79 625.13,121.40 625.67,112.67 626.20,103.95 626.74,97.56 627.28,95.22 627.81,97.63 628.35,104.21 628.89,113.19 629.42,122.17 629.96,128.75 630.50,131.16 631.04,128.82 631.57,122.43 632.11,113.70 632.65,104.96 633.18,98.57 633.72,96.23 634.26,98.70 634.79,105.44 635.33,114.65 635.87,123.85 636.40,130.59 636.94,133.06 637.48,130.58 638.02,123.78 638.55,114.51 639.09,105.23 639.63,98.44 640.16,95.95 640.70,98.46 641.24,105.33 641.77,114.70 642.31,124.07 642.85,130.94 643.38,133.45 643.92,130.95 644.46,124.11 645.00,114.78 645.53,105.44 646.07,98.60 646.61,96.10 647.14,98.48 647.68,104.97 648.22,113.84 648.75,122.71 649.29,129.21 649.83,131.58 650.36,129.29 650.90,123.04 651.44,114.50 651.98,105.96 652.51,99.71 653.05,97.42 653.59,99.72 654.12,106.02 654.66,114.62 655.20,123.22 655.73,129.51 656.27,131.82 656.81,129.49 657.34,123.13 657.88,114.44 658.42,105.76 658.96,99.40 659.49,97.07 660.03,99.48 660.57,106.07 661.10,115.07 661.64,124.07 662.18,130.66 662.71,133.07 663.25,130.76 663.79,124.47 664.32,115.87 664.86,107.28 665.40,100.99 665.93,98.68 666.47,100.97 667.01,107.21 667.55,115.75 668.08,124.28 668.62,130.52 669.16,132.81 669.69,130.47 670.23,124.08 670.77,115.36 671.30,106.63 671.84,100.24 672.38,97.90 672.91,100.38 673.45,107.14 673.99,116.38 674.53,125.62 675.06,132.39 675.60,134.86 675.70,134.90 675.80,135.02 675.90,135.18 676.00,135.34 676.10,135.46 676.20,135.50" stroke="#86a5dc" stroke-width="1.25" fill="none" stroke-linejoin="round"/>
<path d="M362.0,163.5H676.5M362.00,163.5V168.5M393.45,163.5V168.5M424.90,163.5V168.5M456.35,163.5V168.5M487.80,163.5V168.5M519.25,163.5V168.5M550.70,163.5V168.5M582.15,163.5V168.5M613.60,163.5V168.5M645.05,163.5V168.5M676.50,163.5V168.5" stroke="#555" stroke-width="1.2" fill="none"/>
<path d="M362.0,24.5V163.5" stroke="#a4a4a4" stroke-width="2" fill="none"/>
<path d="M357,163.50H362.0M357,146.12H362.0M357,128.75H362.0M357,111.38H362.0M357,94.00H362.0M357,76.62H362.0M357,59.25H362.0M357,41.88H362.0M357,24.50H362.0" stroke="#666" stroke-width="1.2" fill="none"/>
<g font-family="Liberation Sans" font-size="11.8" fill="#333"><text x="355.8" y="168.50" text-anchor="end" textLength="20.3" lengthAdjust="spacingAndGlyphs">−0.5</text><text x="355.8" y="151.12" text-anchor="end" textLength="14.4" lengthAdjust="spacingAndGlyphs">0.5</text><text x="355.8" y="133.75" text-anchor="end" textLength="14.4" lengthAdjust="spacingAndGlyphs">1.5</text><text x="355.8" y="116.38" text-anchor="end" textLength="14.4" lengthAdjust="spacingAndGlyphs">2.5</text><text x="355.8" y="99.00" text-anchor="end" textLength="14.4" lengthAdjust="spacingAndGlyphs">3.5</text><text x="355.8" y="81.62" text-anchor="end" textLength="14.4" lengthAdjust="spacingAndGlyphs">4.5</text><text x="355.8" y="64.25" text-anchor="end" textLength="14.4" lengthAdjust="spacingAndGlyphs">5.5</text><text x="355.8" y="46.88" text-anchor="end" textLength="14.4" lengthAdjust="spacingAndGlyphs">6.5</text><text x="355.8" y="29.50" text-anchor="end" textLength="14.4" lengthAdjust="spacingAndGlyphs">7.5</text><text x="362.00" y="180.8" text-anchor="middle" textLength="6.12" lengthAdjust="spacingAndGlyphs">0</text><text x="393.45" y="180.8" text-anchor="middle" textLength="6.12" lengthAdjust="spacingAndGlyphs">5</text><text x="424.90" y="180.8" text-anchor="middle" textLength="12.24" lengthAdjust="spacingAndGlyphs">10</text><text x="456.35" y="180.8" text-anchor="middle" textLength="12.24" lengthAdjust="spacingAndGlyphs">15</text><text x="487.80" y="180.8" text-anchor="middle" textLength="12.24" lengthAdjust="spacingAndGlyphs">20</text><text x="519.25" y="180.8" text-anchor="middle" textLength="12.24" lengthAdjust="spacingAndGlyphs">25</text><text x="550.70" y="180.8" text-anchor="middle" textLength="12.24" lengthAdjust="spacingAndGlyphs">30</text><text x="582.15" y="180.8" text-anchor="middle" textLength="12.24" lengthAdjust="spacingAndGlyphs">35</text><text x="613.60" y="180.8" text-anchor="middle" textLength="12.24" lengthAdjust="spacingAndGlyphs">40</text><text x="645.05" y="180.8" text-anchor="middle" textLength="12.24" lengthAdjust="spacingAndGlyphs">45</text><text x="676.50" y="180.8" text-anchor="middle" textLength="12.24" lengthAdjust="spacingAndGlyphs">50</text></g>
<text font-family="Liberation Sans" font-size="11" fill="#333" x="519.6" y="197.4" text-anchor="middle" textLength="34" lengthAdjust="spacingAndGlyphs">Time, s</text>
<text font-family="Liberation Sans" font-size="11" fill="#333" transform="translate(338.2,93.3) rotate(-90)" text-anchor="middle" textLength="62" lengthAdjust="spacingAndGlyphs">Amplitude, V</text>
<rect x="0.5" y="0.5" width="773" height="380" stroke="#333" stroke-width="1" fill="none"/></svg>
</body></html>
